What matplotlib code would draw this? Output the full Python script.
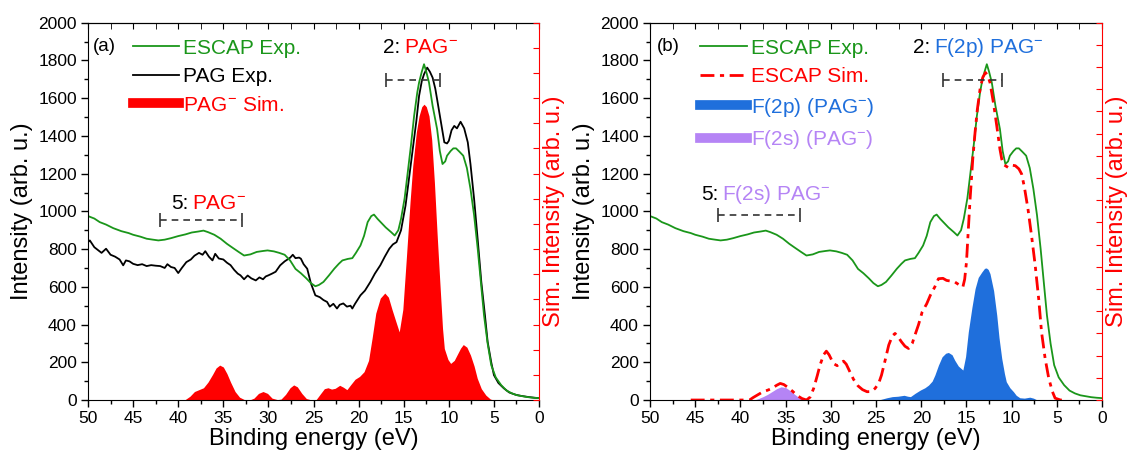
import matplotlib
matplotlib.use("Agg")
import matplotlib.pyplot as plt
from matplotlib.lines import Line2D
from matplotlib.ticker import MultipleLocator

plt.rcParams['font.family'] = ['Liberation Sans', 'DejaVu Sans']
plt.rcParams['mathtext.fontset'] = 'custom'
plt.rcParams['mathtext.rm'] = 'Liberation Sans'
plt.rcParams['mathtext.it'] = 'Liberation Sans'

# ESCAP experimental spectrum (same curve in both panels)
escap_exp_E = [50, 49.3, 48.7, 48, 47.2, 46.3, 45.5, 45, 44.2, 43.5, 42.8, 42.2, 41.5, 40.8, 40,
               39.2, 38.5, 37.8, 37.2, 36.7, 36, 35.3, 34.6, 34, 33.3, 32.7, 32, 31.3, 30.6, 30.1,
               29.4, 28.8, 28.2, 27.6, 27, 26.4, 25.8, 25.3, 24.8, 24.4, 23.9, 23.3, 22.7, 22.2,
               21.8, 21.2, 20.7, 20.3, 19.8, 19.4, 19.0, 18.6, 18.3, 17.9, 17.5, 17.0, 16.4, 16.0,
               15.6, 15.3, 14.9, 14.6, 14.2, 13.85, 13.5, 13.3, 13.0, 12.75, 12.5, 12.2, 11.8,
               11.3, 11.0, 10.7, 10.4, 10.2, 9.8, 9.5, 9.2, 8.8, 8.4, 8.0, 7.6, 7.2, 6.8, 6.4,
               6.1, 5.7, 5.3, 4.8, 4.2, 3.6, 3.0, 2.4, 1.8, 1.2, 0.6, 0]
escap_exp_I = [975, 962, 943, 930, 911, 895, 885, 876, 866, 855, 850, 846, 850, 858, 869,
               878, 888, 893, 898, 890, 876, 855, 828, 808, 785, 766, 772, 785, 790, 793,
               788, 780, 770, 740, 695, 672, 645, 620, 603, 610, 626, 660, 696, 722,
               740, 748, 752, 780, 819, 870, 943, 975, 983, 960, 940, 915, 890, 872,
               900, 960, 1070, 1189, 1350, 1506, 1630, 1683, 1740, 1780, 1740, 1683, 1560,
               1436, 1320, 1251, 1265, 1295, 1320, 1334, 1334, 1315, 1295, 1230, 1119, 980, 802, 600,
               449, 300, 185, 120, 79, 50, 35, 25, 20, 15, 12, 10]

# PAG experimental spectrum
pag_exp_E = [50, 49.8, 49.3, 48.5, 48, 47.5, 47, 46.5, 46.1, 45.8, 45.4, 45, 44.5, 44, 43.5, 43,
             42.5, 42, 41.5, 41.2, 40.8, 40.4, 40, 39.6, 39.1, 38.6, 38.2, 37.7, 37.3, 37, 36.6,
             36.2, 35.9, 35.5, 35, 34.6, 34.2, 33.8, 33.4, 33.1, 32.7, 32.3, 31.9, 31.4, 31,
             30.6, 30.3, 30, 29.6, 29.2, 28.7, 28.2, 27.6, 27.3, 27.0, 26.6, 26.4, 26.1, 25.7,
             25.3, 24.8, 24.3, 23.9, 23.5, 23.2, 22.8, 22.4, 22.1, 21.7, 21.3, 20.9, 20.7, 20.4,
             19.8, 19.3, 18.7, 18.2, 17.6, 17.1, 16.6, 16.2, 15.8, 15.3, 14.8, 14.4, 14.0, 13.6,
             13.3, 13.0, 12.75, 12.4, 12.1, 11.8, 11.5, 11.3, 10.9, 10.5, 10.2, 10.0, 9.7, 9.4,
             9.1, 8.7, 8.3, 7.9, 7.6, 7.2, 6.8, 6.4, 6.0, 5.7, 5.3, 5.0, 4.5, 3.9, 3.3, 2.6,
             2.0, 1.2, 0.5, 0]
pag_exp_I = [837, 846, 810, 780, 802, 770, 760, 745, 714, 740, 735, 722, 715, 720, 710, 715,
             712, 710, 700, 720, 705, 700, 673, 700, 731, 745, 765, 780, 770, 789, 760,
             740, 775, 750, 745, 728, 715, 690, 670, 661, 640, 660, 645, 634, 650,
             640, 655, 661, 670, 680, 714, 735, 754, 770, 752, 755, 749, 720, 696,
             620, 555, 545, 530, 520, 495, 510, 485, 505, 512, 495, 500, 485, 510,
             555, 580, 626, 670, 714, 760, 802, 825, 837, 900, 1031, 1180, 1330, 1480,
             1612, 1690, 1727, 1762, 1740, 1709, 1650, 1594, 1480, 1366, 1360, 1374, 1430, 1453,
             1440, 1475, 1440, 1366, 1250, 1066, 850, 626, 450, 309, 200, 132, 90, 62, 40, 28,
             22, 16, 12, 10]

# PAG- simulated spectrum (panel a)
pag_sim_E = [50, 39.3, 38.7, 38.2, 37.7, 37.2, 36.7, 36.2, 35.8, 35.4, 35.0, 34.6, 34.2, 33.7,
             33.2, 32.7, 32.1, 31.6, 31.1, 30.6, 30.1, 29.6, 29.0, 28.6, 28.1, 27.6, 27.2, 26.8,
             26.3, 25.8, 25.2, 24.7, 24.2, 23.8, 23.4, 23.0, 22.6, 22.1, 21.7, 21.3, 20.9, 20.4,
             19.9, 19.4, 18.9, 18.5, 18.1, 17.6, 17.1, 16.7, 16.3, 15.9, 15.5, 15.1, 14.7, 14.3,
             14.0, 13.6, 13.3, 13.0, 12.75, 12.5, 12.2, 11.9, 11.6, 11.3, 11.0, 10.7, 10.5, 10.1,
             9.8, 9.4, 9.1, 8.7, 8.4, 8.0, 7.6, 7.2, 6.85, 6.4, 5.9, 5.4, 5.0, 0]
pag_sim_I = [0, 0, 20, 45, 55, 65, 95, 135, 170, 185, 175, 140, 95, 45,
             15, 3, 0, 10, 35, 45, 35, 10, 2, 5, 30, 65, 80, 70,
             35, 8, 0, 3, 35, 60, 65, 58, 62, 78, 68, 55, 80, 110,
             125, 150, 210, 330, 460, 540, 567, 545, 480, 420, 361, 480, 760, 1050,
             1242, 1420, 1506, 1555, 1568, 1555, 1506, 1380, 1154, 880, 626, 380, 273, 215,
             194, 210, 238, 275, 294, 280, 238, 180, 115, 60, 26, 5, 0, 0]

# ESCAP simulated spectrum (panel b)
escap_sim_E = [45.5, 39.0, 38.6, 38.0, 37.5, 37.0, 36.5, 36.0, 35.6, 35.2, 34.7, 34.2, 33.8, 33.2,
               32.7, 32.3, 31.9, 31.5, 31.2, 30.8, 30.5, 30.2, 29.9, 29.6, 29.3, 29.0, 28.6, 28.3,
               27.9, 27.5, 27.0, 26.5, 26.0, 25.5, 25.1, 24.7, 24.4, 24.0, 23.6, 23.2, 22.9, 22.5,
               22.2, 21.8, 21.4, 21.0, 20.7, 20.3, 19.9, 19.4, 19.0, 18.5, 18.1, 17.6, 17.2, 16.7,
               16.3, 15.8, 15.4, 15.2, 15.0, 14.8, 14.6, 14.3, 14.05, 13.8, 13.5, 13.2, 12.9, 12.65,
               12.4, 12.0, 11.65, 11.3, 11.1, 10.8, 10.4, 10.0, 9.6, 9.2, 8.9, 8.6, 8.2, 7.8, 7.4,
               7.0, 6.7, 6.3, 5.9, 5.5, 5.2, 4.6, 4.2]
escap_sim_I = [0, 0, 13, 30, 44, 52, 62, 78, 88, 82, 65, 45, 26, 8,
               0, 15, 62, 130, 185, 240, 259, 240, 211, 190, 182, 195, 206, 190,
               150, 110, 75, 55, 44, 45, 62, 90, 132, 210, 291, 340, 353, 330,
               309, 285, 273, 300, 344, 400, 467, 510, 555, 600, 643, 645, 634, 630,
               626, 610, 599, 640, 731, 900, 1066, 1280, 1419, 1540, 1647, 1710, 1736, 1720,
               1683, 1570, 1453, 1330, 1277, 1245, 1233, 1245, 1242, 1225, 1198, 1130, 1013, 870, 714,
               530, 361, 220, 115, 45, 10, 0, 0]

# F(2p) contribution of PAG-
f2p_E = [50, 38.5, 37.5, 36.5, 35.5, 34.5, 33.5, 32.5, 25.0, 24.5, 23.8, 23.2, 22.6, 21.9, 21.5,
         21.2, 20.7, 20.1, 19.6, 19.2, 18.8, 18.5, 18.1, 17.7, 17.3, 17.0, 16.6, 16.3, 15.9,
         15.4, 15.1, 14.8, 14.4, 14.05, 13.7, 13.3, 13.0, 12.8, 12.6, 12.4, 12.0, 11.65, 11.4,
         11.1, 10.8, 10.6, 10.2, 9.8, 9.5, 9.1, 8.6, 8.0, 7.6, 7.3, 7.0, 0]
f2p_I = [0, 0, 5, 8, 10, 8, 3, 0, 0, 3, 12, 18, 20, 25, 20,
         18, 35, 53, 65, 79, 100, 132, 185, 229, 248, 252, 240, 211, 180,
         159, 230, 361, 490, 590, 650, 679, 698, 700, 692, 670, 580, 449, 330,
         220, 140, 97, 65, 44, 25, 12, 10, 15, 10, 3, 0, 0]

# F(2s) contribution of PAG-
f2s_E = [38.5, 38.0, 37.5, 37.0, 36.5, 36.0, 35.5, 35.0, 34.5, 34.0, 33.5, 33.0, 32.7]
f2s_I = [0, 8, 18, 30, 45, 60, 70, 66, 50, 30, 12, 3, 0]

green = '#1a961a'
red = '#ff0000'
blue = '#1f6fdc'
purple = '#b584f5'
fs = 15
PAG = r'PAG$^{\mathregular{-}}$'


def style_axes(ax, n_right):
    ax.set_xlim(50, 0)
    ax.set_ylim(0, 2000)
    ax.xaxis.set_major_locator(MultipleLocator(5))
    ax.xaxis.set_minor_locator(MultipleLocator(2.5))
    ax.yaxis.set_major_locator(MultipleLocator(200))
    ax.yaxis.set_minor_locator(MultipleLocator(100))
    ax.tick_params(which='major', direction='out', length=5, width=1, labelsize=12.5, pad=3)
    ax.tick_params(which='minor', direction='out', length=3, width=1)
    ax.spines['right'].set_visible(False)
    top = ax.secondary_xaxis('top')
    top.xaxis.set_major_locator(MultipleLocator(5))
    top.xaxis.set_minor_locator(MultipleLocator(2.5))
    top.tick_params(which='both', direction='in', length=4, labeltop=False)
    ax.set_xlabel('Binding energy (eV)', fontsize=17, labelpad=1)
    ax.set_ylabel('Intensity (arb. u.)', fontsize=17, labelpad=4)
    ax2 = ax.twinx()
    ax2.set_ylim(0, n_right)
    ax2.yaxis.set_major_locator(MultipleLocator(1))
    ax2.tick_params(axis='y', direction='in', length=4, colors=red, labelright=False)
    ax2.spines['right'].set_color(red)
    ax2.set_ylabel('Sim. Intensity (arb. u.)', color=red, fontsize=17, labelpad=3)
    for s in ['left', 'top', 'bottom']:
        ax2.spines[s].set_visible(False)
    return ax2


def label_bar(ax, e1, e2, y, prefix, word, wcolor, ex, ey):
    ax.plot([e1, e2], [y, y], color='#333333', lw=1.2, ls=(0, (4, 3)))
    ax.plot([e1, e2], [y, y], color='#333333', ls='none', marker='|', ms=10, mew=1.2)
    ax.text(ex, ey, prefix, ha='right', va='center', fontsize=fs, color='black')
    ax.text(ex - 0.4, ey, word, ha='left', va='center', fontsize=fs, color=wcolor)


fig = plt.figure(figsize=(11.27, 4.59), dpi=100)
axa = fig.add_axes([0.0781, 0.1285, 0.4002, 0.822])
axb = fig.add_axes([0.5768, 0.1285, 0.4011, 0.822])

# panel (a)
style_axes(axa, 15)
axa.fill_between(pag_sim_E, pag_sim_I, 0, color=red, lw=0)
axa.plot(pag_exp_E, pag_exp_I, color='black', lw=1.3)
axa.plot(escap_exp_E, escap_exp_I, color=green, lw=1.3)
axa.text(0.011, 0.936, '(a)', transform=axa.transAxes, fontsize=13.5, va='center', ha='left')
handles_a = [Line2D([], [], color=green, lw=1.3),
             Line2D([], [], color='black', lw=1.3),
             Line2D([], [], color=red, lw=7)]
axa.legend(handles_a, ['ESCAP Exp.', 'PAG Exp.', PAG + ' Sim.'], loc='upper left',
           bbox_to_anchor=(0.1, 0.958), frameon=False, fontsize=fs, handlelength=2.2,
           handletextpad=0.2, labelspacing=0.46, borderpad=0, borderaxespad=0,
           labelcolor=[green, 'black', red])
label_bar(axa, 17.0, 11.0, 1696, '2:', PAG, red, 15.4, 1871)
label_bar(axa, 42.0, 32.9, 954, '5:', PAG, red, 38.9, 1044)

# panel (b)
style_axes(axb, 17)
axb.fill_between(f2p_E, f2p_I, 0, color=blue, lw=0)
axb.fill_between(f2s_E, f2s_I, 0, color=purple, lw=0)
axb.plot(escap_exp_E, escap_exp_I, color=green, lw=1.3)
axb.plot(escap_sim_E, escap_sim_I, color=red, lw=2, ls=(0, (5, 2, 1.5, 2)))
axb.text(0.015, 0.936, '(b)', transform=axb.transAxes, fontsize=13.5, va='center', ha='left')
handles_b = [Line2D([], [], color=green, lw=1.3),
             Line2D([], [], color=red, lw=2, ls=(0, (5, 2, 1.5, 2))),
             Line2D([], [], color=blue, lw=7),
             Line2D([], [], color=purple, lw=7)]
axb.legend(handles_b, ['ESCAP Exp.', 'ESCAP Sim.', 'F(2p) (' + PAG + ')', 'F(2s) (' + PAG + ')'],
           loc='upper left', bbox_to_anchor=(0.111, 0.958), frameon=False, fontsize=fs,
           handlelength=2.25, handletextpad=0.2, labelspacing=0.46, borderpad=0,
           borderaxespad=0, labelcolor=[green, red, blue, purple])
label_bar(axb, 17.6, 11.1, 1696, '2:', 'F(2p) ' + PAG, blue, 19.0, 1871)
label_bar(axb, 42.5, 33.4, 980, '5:', 'F(2s) ' + PAG, purple, 42.4, 1087)

fig.savefig('out.png', dpi=100)
